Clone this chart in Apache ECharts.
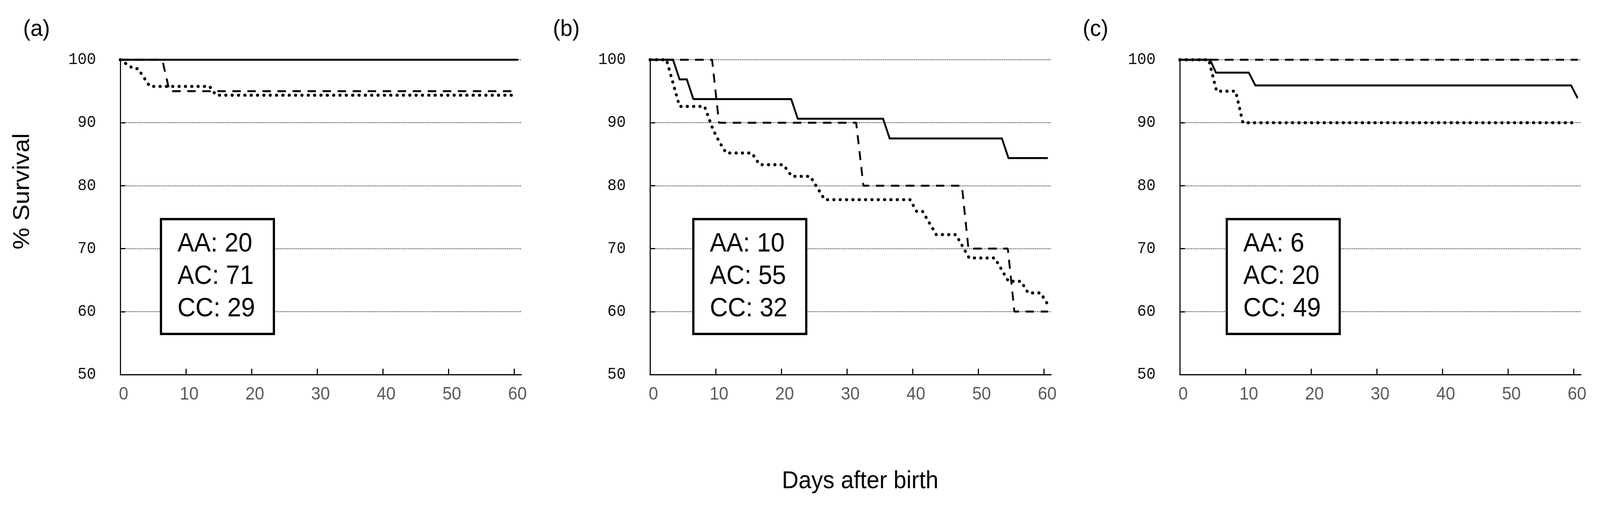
<!DOCTYPE html>
<html>
<head>
<meta charset="utf-8">
<script src="https://cdn.jsdelivr.net/npm/echarts@6/dist/echarts.min.js"></script>
<style>
html,body{margin:0;padding:0;background:#fff;overflow:hidden;}
#wrap{width:4364px;height:1293px;transform-origin:0 0;}
#chart{width:4364px;height:1293px;}
</style>
</head>
<body>
<div id="wrap"><div id="chart"></div></div>
<script>
// ---- data ----
const panelNames = ['(a)', '(b)', '(c)'];
const genotypes = ['AA', 'AC', 'CC'];
const countsA = [20, 71, 29];
const countsB = [10, 55, 32];
const countsC = [6, 20, 49];
const xTicks = [0, 10, 20, 30, 40, 50, 60];
const yTicks = [50, 60, 70, 80, 90, 100];

// panel (a)
const aAA = [[0,100],[6.4,100],[7.5,95],[60.5,95]];
const aAC = [[0,100],[2,98.59],[2.7,98.59],[3.6,97.18],[4.5,95.77],[13.6,95.77],[14.6,94.37],[60.3,94.37]];
const aCC = [[0,100],[60.6,100]];
// panel (b)
const bAA = [[0,100],[9.45,100],[10.5,90],[31.4,90],[32.5,80],[47.5,80],[48.5,70],[54.5,70],[55.5,60],[60.6,60]];
const bAC = [[0,100],[2.5,100],[4.5,92.59],[8.3,92.59],[9.6,88.89],[10.5,87.04],[11.6,85.19],[15.5,85.19],[16.7,83.33],[20.3,83.33],[21.6,81.48],[24.4,81.48],[26.6,77.78],[39.6,77.78],[40.6,75.93],[41.5,75.93],[43.6,72.22],[46.6,72.22],[48.6,68.52],[52.5,68.52],[54.6,64.81],[56.5,64.81],[57.6,62.96],[59.5,62.96],[60.6,61.11]];
const bCC = [[0,100],[3.5,100],[4.5,96.88],[5.6,96.88],[6.6,93.75],[21.5,93.75],[22.5,90.63],[35.5,90.63],[36.5,87.5],[53.6,87.5],[54.6,84.38],[60.6,84.38]];
// panel (c)
const cAA = [[0,100],[60.6,100]];
const cAC = [[0,100],[4.4,100],[5.6,95],[8.5,95],[9.6,90],[60.3,90]];
const cCC = [[0,100],[4.6,100],[5.5,97.96],[10.5,97.96],[11.5,95.92],[59.6,95.92],[60.6,93.88]];

const panels = [
  {name: panelNames[0], counts: countsA, AA: aAA, AC: aAC, CC: aCC},
  {name: panelNames[1], counts: countsB, AA: bAA, AC: bAC, CC: bCC},
  {name: panelNames[2], counts: countsC, AA: cAA, AC: cAC, CC: cCC}
];

// fit the 4364x1293 design into the actual viewport
const W = 4364, H = 1293;
const sx = Math.min(1, (window.innerWidth || W) / W);
const sy = Math.min(1, (window.innerHeight || H) / H);
document.getElementById('wrap').style.transform = 'scale(' + sx + ',' + sy + ')';

// ---- layout ----
const gridLefts = [328, 1773, 3218];
const boxLefts = [436, 1888, 3343];
const gridTop = 153, gridH = 806, gridW = 1094;
const FONT = '"Liberation Sans", Arial, sans-serif';

const chart = echarts.init(document.getElementById('chart'), null, {renderer: 'canvas', width: W, height: H});

const grids = [], xAxes = [], yAxes = [], series = [], graphics = [];
panels.forEach((p, i) => {
  grids.push({left: gridLefts[i], top: gridTop, width: gridW, height: gridH, containLabel: false});
  xAxes.push({
    type: 'value', gridIndex: i, min: 0, max: 61.1,
    axisLine: {show: true, lineStyle: {color: '#000', width: 3}},
    axisTick: {show: true, inside: true, length: 15, lineStyle: {color: '#000', width: 3}, customValues: xTicks},
    axisLabel: {show: true, customValues: xTicks, color: '#595959', fontSize: 46, fontFamily: FONT, margin: 28, padding: [0,0,0,18]},
    splitLine: {show: false}
  });
  yAxes.push({
    type: 'value', gridIndex: i, min: yTicks[0], max: yTicks[yTicks.length - 1], interval: 10,
    axisLine: {show: true, lineStyle: {color: '#000', width: 3}},
    axisTick: {show: true, inside: true, length: 14, lineStyle: {color: '#000', width: 3}},
    axisLabel: {show: true, color: '#111', fontSize: 42, fontFamily: '"Liberation Mono", "DejaVu Sans Mono", monospace', margin: 66, padding: [8,0,0,0]},
    splitLine: {show: true, lineStyle: {color: '#444', width: 2, type: [3, 2]}}
  });
  const common = {type: 'line', xAxisIndex: i, yAxisIndex: i, showSymbol: false, symbol: 'none', clip: false, animation: false, silent: true};
  series.push(Object.assign({}, common, {name: p.name + ' AC', data: p.AC,
    lineStyle: {color: '#000', width: 8, type: [0.5, 16.8], cap: 'round', join: 'round'}}));
  series.push(Object.assign({}, common, {name: p.name + ' AA', data: p.AA,
    lineStyle: {color: '#000', width: 5, type: [23, 18], cap: 'butt'}}));
  series.push(Object.assign({}, common, {name: p.name + ' CC', data: p.CC,
    lineStyle: {color: '#000', width: 5, type: 'solid', join: 'miter'}}));

  // panel label
  graphics.push({type: 'text', z: 100, x: gridLefts[i] - 265, y: 75,
    style: {text: p.name, fontSize: 60, fontFamily: FONT, fill: '#000', align: 'left', verticalAlign: 'middle', textAlign: 'left', textVerticalAlign: 'middle'}});
  // count box
  graphics.push({type: 'rect', z: 100,
    shape: {x: boxLefts[i] + 3, y: 561, width: 308, height: 294},
    style: {fill: '#fff', stroke: '#000', lineWidth: 6}});
  const lineYs = [625, 708, 791];
  genotypes.forEach((g, k) => {
    graphics.push({type: 'text', z: 101, x: boxLefts[i] + 48, y: lineYs[k],
      style: {text: g + ': ' + p.counts[k], fontSize: 68, fontFamily: FONT, fill: '#000', align: 'left', verticalAlign: 'middle', textAlign: 'left', textVerticalAlign: 'middle'}});
  });
});

// axis titles
graphics.push({type: 'text', z: 100, x: 62, y: 490, rotation: Math.PI / 2,
  style: {text: '% Survival', fontSize: 63, fontFamily: FONT, fill: '#000', align: 'center', verticalAlign: 'middle', textAlign: 'center', textVerticalAlign: 'middle'}});
graphics.push({type: 'text', z: 100, x: 2346, y: 1233,
  style: {text: 'Days after birth', fontSize: 63, fontFamily: FONT, fill: '#000', align: 'center', verticalAlign: 'middle', textAlign: 'center', textVerticalAlign: 'middle'}});

chart.setOption({
  backgroundColor: '#fff',
  animation: false,
  textStyle: {fontFamily: FONT},
  grid: grids,
  xAxis: xAxes,
  yAxis: yAxes,
  series: series,
  graphic: {elements: graphics}
});
</script>
</body>
</html>
